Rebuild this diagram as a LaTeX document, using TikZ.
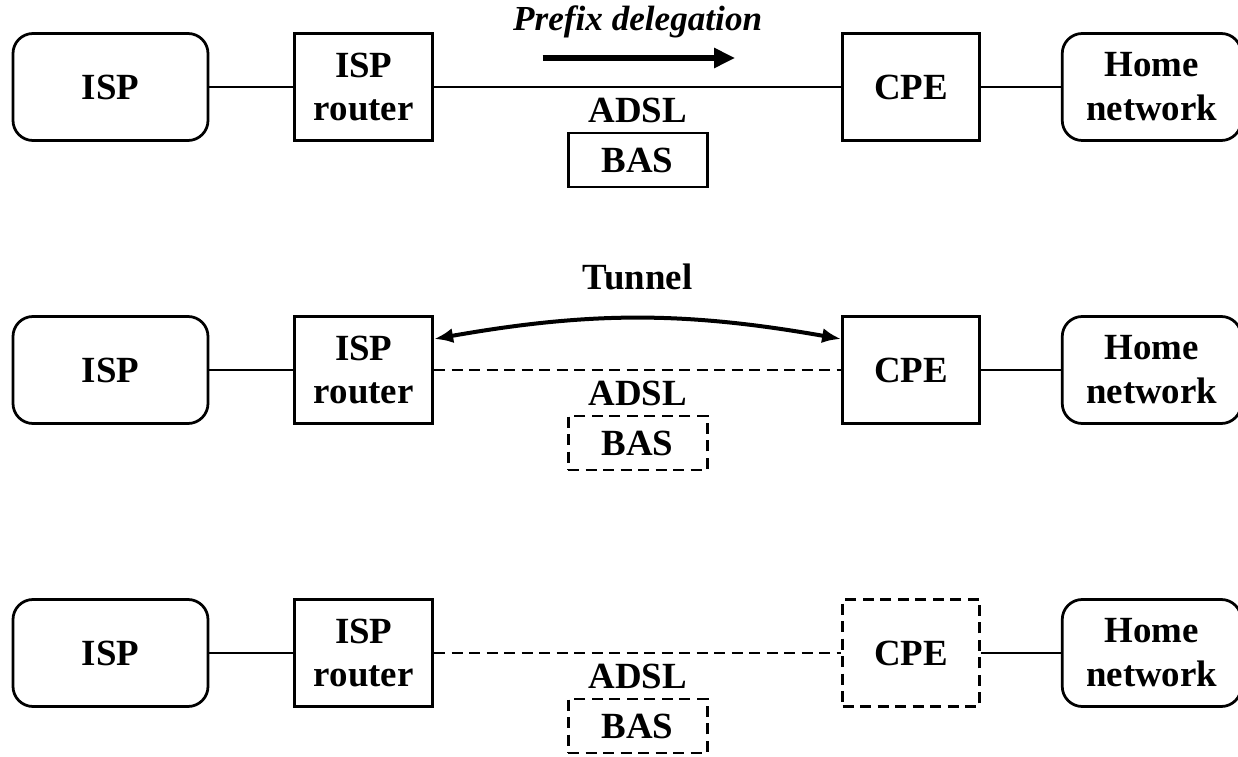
\documentclass[tikz,border=0pt]{standalone}
\usepackage{fontspec}
\setmainfont{Liberation Serif}
\usetikzlibrary{positioning,arrows.meta,calc}

\begin{document}
\begin{tikzpicture}[
        font=\fontsize{21}{25}\selectfont\bfseries,
        netbox/.style={rectangle, rounded corners=0.4cm, draw, line width=\boxlinewidth, minimum height=\boxht, align=center},
        devbox/.style={rectangle, draw, line width=\boxlinewidth, minimum height=\boxht, align=center},
        basbox/.style={rectangle, draw, line width=\boxlinewidth, minimum width=2.78cm, minimum height=1.08cm},
        offline/.style={dash pattern=on 0.22cm off 0.13cm},
        link/.style={line width=\boxlinewidth},
    ]
        \def\boxgap{1.68cm}
        \def\adslgap{8.14cm}
        \def\homegap{1.6cm}
        \def\boxht{2.14cm}
        \def\boxlinewidth{0.055cm}

        \useasboundingbox (0, 0) rectangle (24.76, 15.12);

        % first row: prefix delegation
        \node[netbox, minimum width=3.9cm] (isp1) at (2.21, 13.38) {ISP};
        \node[devbox, minimum width=2.76cm, right = \boxgap of isp1] (rt1) {ISP\\router};
        \node[devbox, minimum width=2.74cm, right = \adslgap of rt1] (cpe1) {CPE};
        \node[netbox, minimum width=3.58cm, right = \homegap of cpe1] (home1) {Home\\network};
        \coordinate (mid1) at ($(rt1.east)!0.5!(cpe1.west)$);
        \node (adsl1) at ([yshift=-0.46cm]mid1) {ADSL};
        \node[basbox] (bas1) at ([yshift=-1.46cm]mid1) {BAS};
        \node[font=\fontsize{20}{24}\selectfont\bfseries\itshape] (pd) at ([yshift=1.3cm]mid1) {Prefix delegation};
        \coordinate (pd-from) at ([xshift=-1.9cm, yshift=0.58cm]mid1);
        \coordinate (pd-to) at ([xshift=1.95cm, yshift=0.58cm]mid1);

        \draw[link] (isp1) -- (rt1);
        \draw[link] (rt1) -- (cpe1);
        \draw[link] (cpe1) -- (home1);
        \draw[-{Triangle[length=0.42cm, width=0.38cm]}, line width=0.12cm] (pd-from) -- (pd-to);

        % second row: tunnel
        \node[netbox, minimum width=3.9cm] (isp2) at (2.21, 7.72) {ISP};
        \node[devbox, minimum width=2.76cm, right = \boxgap of isp2] (rt2) {ISP\\router};
        \node[devbox, minimum width=2.74cm, right = \adslgap of rt2] (cpe2) {CPE};
        \node[netbox, minimum width=3.58cm, right = \homegap of cpe2] (home2) {Home\\network};
        \coordinate (mid2) at ($(rt2.east)!0.5!(cpe2.west)$);
        \node (adsl2) at ([yshift=-0.46cm]mid2) {ADSL};
        \node[basbox, offline] (bas2) at ([yshift=-1.46cm]mid2) {BAS};
        \node (tunnel) at ([yshift=1.86cm]mid2) {Tunnel};

        \draw[link] (isp2) -- (rt2);
        \draw[link, offline] (rt2) -- (cpe2);
        \draw[link] (cpe2) -- (home2);
        \draw[{Latex[length=0.38cm, width=0.3cm]}-{Latex[length=0.38cm, width=0.3cm]}, line width=0.08cm] ([yshift=0.62cm]rt2.east) to[bend left=10] ([yshift=0.62cm]cpe2.west);

        % third row: no CPE
        \node[netbox, minimum width=3.9cm] (isp3) at (2.21, 2.06) {ISP};
        \node[devbox, minimum width=2.76cm, right = \boxgap of isp3] (rt3) {ISP\\router};
        \node[devbox, minimum width=2.74cm, right = \adslgap of rt3, offline] (cpe3) {CPE};
        \node[netbox, minimum width=3.58cm, right = \homegap of cpe3] (home3) {Home\\network};
        \coordinate (mid3) at ($(rt3.east)!0.5!(cpe3.west)$);
        \node (adsl3) at ([yshift=-0.46cm]mid3) {ADSL};
        \node[basbox, offline] (bas3) at ([yshift=-1.46cm]mid3) {BAS};

        \draw[link] (isp3) -- (rt3);
        \draw[link, offline] (rt3) -- (cpe3);
        \draw[link] (cpe3) -- (home3);
    \end{tikzpicture}
\end{document}
